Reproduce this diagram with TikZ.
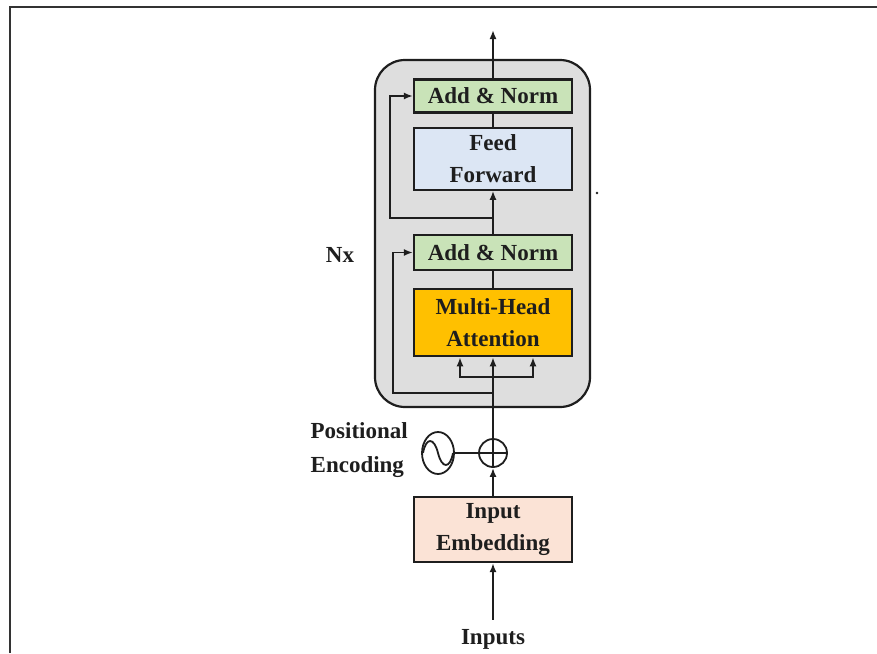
\documentclass[tikz,border=0pt]{standalone}
\usepackage{fontspec}
\setmainfont{Liberation Serif}
\usetikzlibrary{arrows.meta,positioning,shapes.geometric}
\definecolor{NormGreen}{HTML}{C9E3B8}
\definecolor{FeedBlue}{HTML}{DCE6F4}
\definecolor{AttnOrange}{HTML}{FFC000}
\definecolor{EmbedPeach}{HTML}{FBE3D6}
\definecolor{LayerGray}{HTML}{DEDEDE}
\definecolor{Ink}{HTML}{1E1E1E}
\tikzset{
  block/.style={
    draw=Ink,line width=2.2pt,minimum width=158pt,inner sep=0pt,
    align=center,text=Ink,font=\fontsize{23}{32}\selectfont\bfseries
  },
  norm/.style={block,fill=NormGreen,minimum height=33pt},
  layer/.style={
    draw=Ink,line width=2.2pt,fill=LayerGray,rounded corners=30pt,
    minimum width=215pt,minimum height=347pt
  },
  arrow/.style={-{Latex[length=9pt,width=7pt]},line width=1.8pt,draw=Ink},
  link/.style={line width=1.8pt,draw=Ink},
  label/.style={text=Ink,inner sep=1pt,font=\fontsize{23}{34}\selectfont\bfseries}
}

\begin{document}
\begin{tikzpicture}[x=1pt,y=-1pt]
  \useasboundingbox (0,0) rectangle (877,653);
  \draw[line width=2pt,draw=black!80] (10,653) -- (10,7) -- (877,7);

  % encoder layer
  \node[layer] (layer) at (482.5,233.5) {};
  \node[label] (nx) at (340,255) {Nx};

  \node[norm] (norm2) at (493,96) {Add \& Norm};
  \node[block,fill=FeedBlue,minimum height=62pt,below=13pt of norm2] (ff) {Feed\\Forward};
  \node[norm,minimum height=35pt] (norm1) at (493,252.5) {Add \& Norm};
  \node[block,fill=AttnOrange,minimum height=67pt,below=17pt of norm1] (mha) {Multi-Head\\Attention};

  % input side
  \node[circle,draw=Ink,line width=1.8pt,minimum size=28pt,inner sep=0pt] (plus) at (493,453) {};
  \node[ellipse,draw=Ink,line width=1.8pt,minimum width=32pt,minimum height=42pt,inner sep=0pt] (pe) at (438,453) {};
  \node[label,align=left,anchor=east] (pelabel) at (409,450) {Positional\\Encoding};
  \node[block,fill=EmbedPeach,minimum height=65pt] (emb) at (493,529.5) {Input\\Embedding};
  \node[label] (inputs) at (493,639) {Inputs};
  \coordinate (out) at (493,30);
  \coordinate (split) at (493,377);
  \coordinate (skip1) at (493,393);
  \coordinate (skip2) at (493,218);

  % connectors
  \draw[arrow] ([yshift=8pt]inputs.north) -- (emb.south);
  \draw[arrow] (emb.north) -- (plus.south);
  \draw[link] (plus.north) -- (plus.south) (plus.west) -- (plus.east);
  \draw[link] (pe.east) -- (plus.west);
  \draw[link] (423,453) .. controls (426,437) and (434,437) .. (438,453)
    .. controls (442,469) and (450,469) .. (453,453);
  \draw[arrow] (plus.north) -- (mha.south);
  \draw[arrow] (split) -| ([xshift=-33pt]mha.south);
  \draw[arrow] (split) -| ([xshift=40pt]mha.south);
  \draw[arrow] (skip1) -- ++(-100,0) |- (norm1.west);
  \draw[link] (mha.north) -- (norm1.south);
  \draw[arrow] (norm1.north) -- (ff.south);
  \draw[arrow] (skip2) -- ++(-103,0) |- (norm2.west);
  \draw[link] (ff.north) -- (norm2.south);
  \draw[arrow] (norm2.north) -- (out);
  \fill[Ink] (597,193) circle (1.4pt);
\end{tikzpicture}
\end{document}
